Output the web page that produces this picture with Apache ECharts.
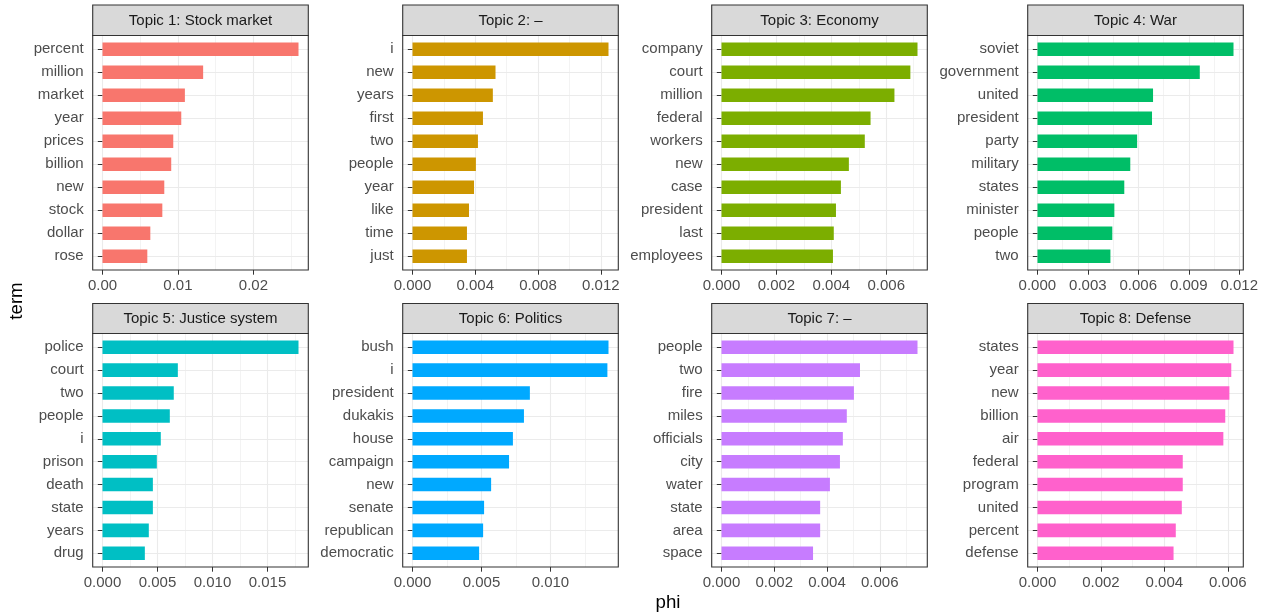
<!DOCTYPE html>
<html>
<head>
<meta charset="utf-8">
<script src="https://cdn.jsdelivr.net/npm/echarts@6/dist/echarts.min.js"></script>
<style>
  html, body { margin: 0; padding: 0; background: #fff; }
  #chart { width: 1261px; height: 613px; }
</style>
</head>
<body>
<div id="chart"></div>
<script>
// ---------- data ----------
const titles = ['Topic 1: Stock market', 'Topic 2: –', 'Topic 3: Economy', 'Topic 4: War',
                'Topic 5: Justice system', 'Topic 6: Politics', 'Topic 7: –', 'Topic 8: Defense'];

const terms1 = ['percent', 'million', 'market', 'year', 'prices', 'billion', 'new', 'stock', 'dollar', 'rose'];
const phi1   = [0.02598, 0.01334, 0.01092, 0.01044, 0.00938, 0.00911, 0.00819, 0.00793, 0.00634, 0.00594];
const terms2 = ['i', 'new', 'years', 'first', 'two', 'people', 'year', 'like', 'time', 'just'];
const phi2   = [0.01249, 0.00529, 0.00512, 0.00449, 0.00417, 0.00404, 0.00392, 0.00360, 0.00347, 0.00347];
const terms3 = ['company', 'court', 'million', 'federal', 'workers', 'new', 'case', 'president', 'last', 'employees'];
const phi3   = [0.00714, 0.00688, 0.00630, 0.00543, 0.00522, 0.00464, 0.00435, 0.00417, 0.00409, 0.00406];
const terms4 = ['soviet', 'government', 'united', 'president', 'party', 'military', 'states', 'minister', 'people', 'two'];
const phi4   = [0.01145, 0.00948, 0.00675, 0.00669, 0.00582, 0.00542, 0.00507, 0.00449, 0.00437, 0.00426];
const terms5 = ['police', 'court', 'two', 'people', 'i', 'prison', 'death', 'state', 'years', 'drug'];
const phi5   = [0.01782, 0.00685, 0.00648, 0.00612, 0.00530, 0.00494, 0.00458, 0.00458, 0.00421, 0.00385];
const terms6 = ['bush', 'i', 'president', 'dukakis', 'house', 'campaign', 'new', 'senate', 'republican', 'democratic'];
const phi6   = [0.01421, 0.01413, 0.00851, 0.00808, 0.00728, 0.00700, 0.00570, 0.00519, 0.00512, 0.00483];
const terms7 = ['people', 'two', 'fire', 'miles', 'officials', 'city', 'water', 'state', 'area', 'space'];
const phi7   = [0.00743, 0.00525, 0.00502, 0.00475, 0.00460, 0.00449, 0.00411, 0.00374, 0.00374, 0.00347];
const terms8 = ['states', 'year', 'new', 'billion', 'air', 'federal', 'program', 'united', 'percent', 'defense'];
const phi8   = [0.00618, 0.00611, 0.00605, 0.00592, 0.00586, 0.00458, 0.00458, 0.00455, 0.00436, 0.00429];

const tickLabels1 = ['0.00', '0.01', '0.02'];
const tickLabels2 = ['0.000', '0.004', '0.008', '0.012'];
const tickLabels3 = ['0.000', '0.002', '0.004', '0.006'];
const tickLabels4 = ['0.000', '0.003', '0.006', '0.009', '0.012'];
const tickLabels5 = ['0.000', '0.005', '0.010', '0.015'];
const tickLabels6 = ['0.000', '0.005', '0.010'];
const tickLabels7 = ['0.000', '0.002', '0.004', '0.006'];
const tickLabels8 = ['0.000', '0.002', '0.004', '0.006'];

const colors = ['#F8766D', '#CD9600', '#7CAE00', '#00BE67', '#00BFC4', '#00A9FF', '#C77CFF', '#FF61CC'];

const allTerms = [terms1, terms2, terms3, terms4, terms5, terms6, terms7, terms8];
const allPhi = [phi1, phi2, phi3, phi4, phi5, phi6, phi7, phi8];
const allTicks = [tickLabels1, tickLabels2, tickLabels3, tickLabels4, tickLabels5, tickLabels6, tickLabels7, tickLabels8];

// ---------- layout ----------
const FONT = '"Liberation Sans", Arial, Helvetica, sans-serif';
const colLeft = [92.7, 402.7, 711.7, 1027.7];
const panelW = 215.6;
const stripTop = [5, 303.5];
const panelTop = [35.5, 333.5];
const panelH = [234.5, 233.5];

const grids = [], xAxes = [], yAxes = [], series = [], graphics = [];

for (let i = 0; i < 8; i++) {
  const r = Math.floor(i / 4), c = i % 4;
  const L = colLeft[c], T = panelTop[r], H = panelH[r];
  const step = H / 10.2;                  // discrete expansion of 0.6 units each side
  const innerTop = T + (H - 10 * step) / 2;
  const vals = allPhi[i];
  const M = Math.max(...vals);
  const xmin = -0.05 * M, xmax = 1.05 * M;
  const labs = allTicks[i];
  const tickVals = labs.map(parseFloat);
  const interval = tickVals[1] - tickVals[0];

  grids.push({ left: L, top: T, width: panelW, height: H, show: false, containLabel: false });
  grids.push({ left: L, top: innerTop, width: panelW, height: 10 * step, show: false, containLabel: false });
  const go = 2 * i, gi = 2 * i + 1;

  xAxes.push({
    type: 'value', gridIndex: go, min: xmin, max: xmax,
    minInterval: interval, maxInterval: interval,
    axisLine: { show: false },
    axisTick: { show: true, customValues: tickVals, length: 4.7, lineStyle: { color: '#333333', width: 1 } },
    axisLabel: {
      show: true, customValues: tickVals, margin: 8.5, color: '#4D4D4D', fontSize: 15, fontFamily: FONT,
      formatter: (v) => { const k = tickVals.findIndex(t => Math.abs(t - v) < 1e-9); return k >= 0 ? labs[k] : ''; }
    },
    splitLine: { show: true, lineStyle: { color: '#EBEBEB', width: 1.1 } },
    minorTick: { show: false, splitNumber: 2 },
    minorSplitLine: { show: true, lineStyle: { color: '#EBEBEB', width: 0.6 } }
  });
  yAxes.push({ type: 'value', gridIndex: go, min: 0, max: 1, show: false });

  xAxes.push({ type: 'value', gridIndex: gi, min: xmin, max: xmax, show: false });
  yAxes.push({
    type: 'category', gridIndex: gi, data: allTerms[i], inverse: true,
    axisLine: { show: false },
    axisTick: { show: true, alignWithLabel: true, length: 4.7, lineStyle: { color: '#333333', width: 1 } },
    axisLabel: { show: true, margin: 9, color: '#4D4D4D', fontSize: 15, fontFamily: FONT },
    splitLine: { show: true, alignWithLabel: true, lineStyle: { color: '#EBEBEB', width: 1.1 } }
  });

  series.push({
    type: 'bar', xAxisIndex: gi, yAxisIndex: gi, data: vals, barWidth: '59%',
    itemStyle: { color: colors[i] }, silent: true, animation: false
  });

  // strip
  graphics.push({
    type: 'rect', z: 100, shape: { x: L, y: stripTop[r], width: panelW, height: T - stripTop[r] },
    style: { fill: '#D9D9D9', stroke: '#333333', lineWidth: 1.1 }
  });
  graphics.push({
    type: 'text', z: 101, x: L + panelW / 2, y: stripTop[r] + (T - stripTop[r]) / 2 + 0.5,
    style: { text: titles[i], fill: '#1A1A1A', font: '15px ' + FONT, textAlign: 'center', textVerticalAlign: 'middle' }
  });
  // panel border
  graphics.push({
    type: 'rect', z: 100, shape: { x: L, y: T, width: panelW, height: H },
    style: { fill: 'none', stroke: '#333333', lineWidth: 1.1 }
  });
}

// axis titles
graphics.push({
  type: 'text', z: 101, x: 17, y: 301, rotation: Math.PI / 2,
  style: { text: 'term', fill: '#000000', font: '18.7px ' + FONT, textAlign: 'center', textVerticalAlign: 'middle' }
});
graphics.push({
  type: 'text', z: 101, x: 668, y: 603,
  style: { text: 'phi', fill: '#000000', font: '18.7px ' + FONT, textAlign: 'center', textVerticalAlign: 'middle' }
});

const chart = echarts.init(document.getElementById('chart'), null, { renderer: 'canvas' });
chart.setOption({
  animation: false,
  backgroundColor: '#ffffff',
  textStyle: { fontFamily: FONT },
  grid: grids,
  xAxis: xAxes,
  yAxis: yAxes,
  series: series,
  graphic: graphics
});
</script>
</body>
</html>
